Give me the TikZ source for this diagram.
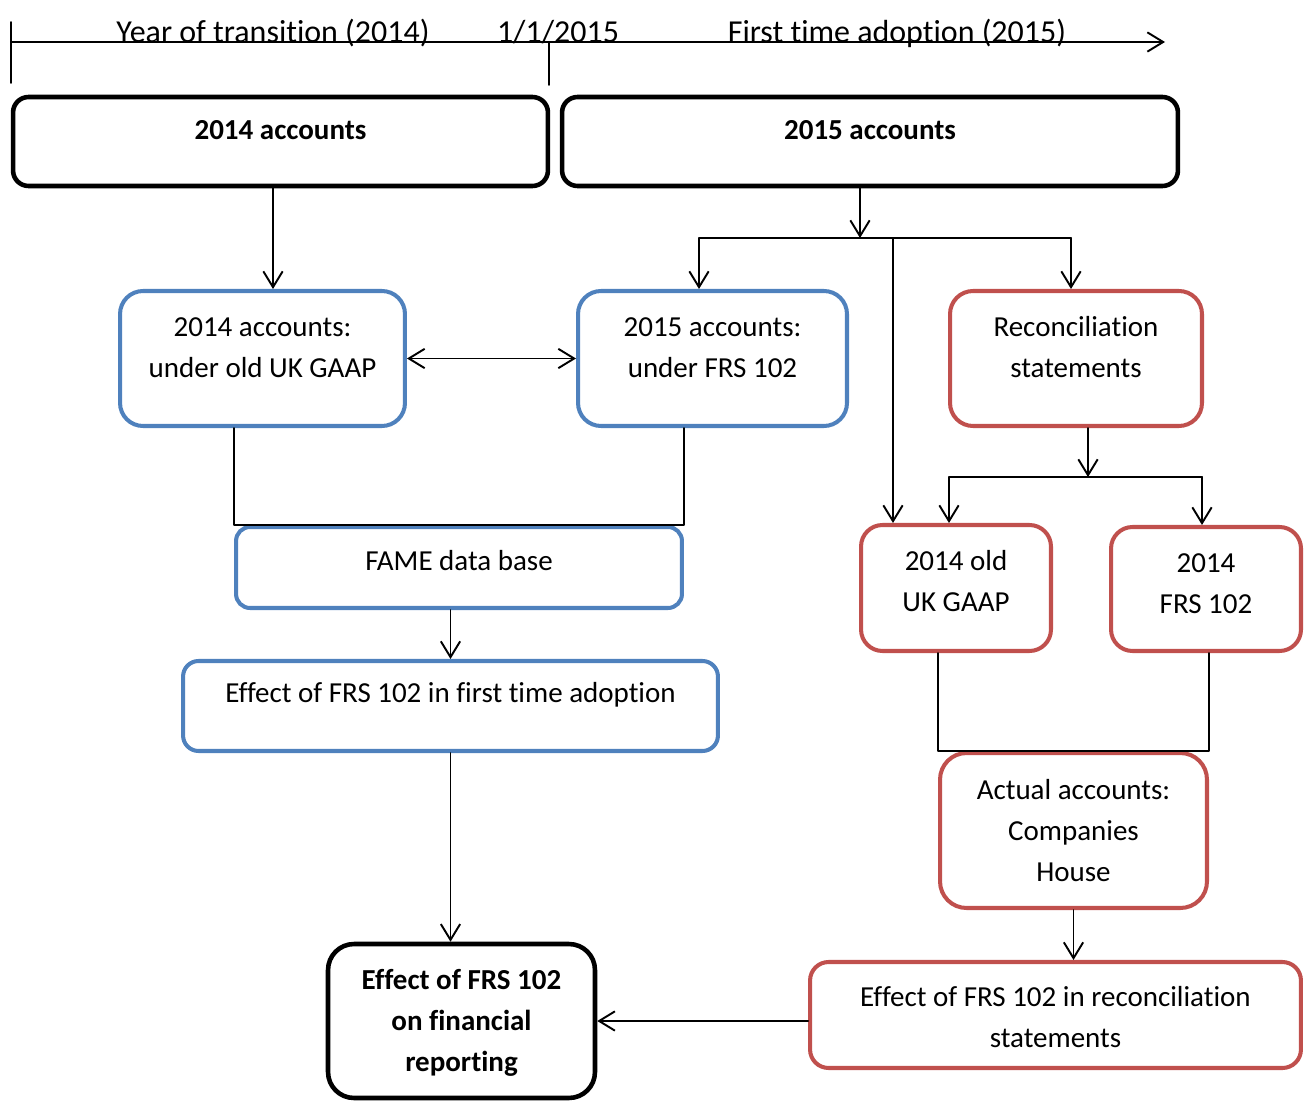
\documentclass[tikz,border=0pt]{standalone}
\usepackage{fontspec}
\setmainfont{Carlito}[Ligatures=NoCommon]
\usetikzlibrary{arrows.meta}
\definecolor{boxblue}{RGB}{79,129,189}
\definecolor{boxred}{RGB}{192,80,77}
\tikzset{
  roundbox/.style={draw,line width=2.3pt,inner sep=0pt,rounded corners=#1},
  blackbox/.style={roundbox=#1,draw=black,line width=2.6pt},
  bluebox/.style={roundbox=#1,draw=boxblue},
  redbox/.style={roundbox=#1,draw=boxred},
  txt/.style={align=center,inner sep=0pt,font=\fontsize{16.5}{23.3}\selectfont},
  boldtxt/.style={txt,font=\bfseries\fontsize{16.5}{23.3}\selectfont},
  tltxt/.style={inner sep=0pt,anchor=base,font=\fontsize{18.2}{22}\selectfont},
  conn/.style={line width=1.1pt}
}

\begin{document}
\begin{tikzpicture}[x=0.02cm,y=-0.02cm,line cap=round,line join=round,
  >={Straight Barb[length=9pt,width=11pt]}]
  \useasboundingbox (0,0) rectangle (1315,1101);

  % time line
  \coordinate (t0) at (11,42);
  \coordinate (t1) at (1165,42);
  \coordinate (tick0a) at (11,22);
  \coordinate (tick0b) at (11,83);
  \coordinate (tick1a) at (549,42);
  \coordinate (tick1b) at (549,85);
  \draw[conn,->] (t0) -- (t1);
  \draw[conn] (tick0a) -- (tick0b);
  \draw[conn] (tick1a) -- (tick1b);
  \node[tltxt] (yt) at (273,43) {Year of transition (2014)};
  \node[tltxt] (day) at (558,43) {1/1/2015};
  \node[tltxt] (fta) at (897,43) {First time adoption (2015)};

  % boxes
  \node[blackbox=0.31cm,minimum width=10.7cm,minimum height=1.78cm] (b2014) at (280.5,141.5) {};
  \node[blackbox=0.31cm,minimum width=12.32cm,minimum height=1.78cm] (b2015) at (870,141.5) {};
  \node[bluebox=0.46cm,minimum width=5.7cm,minimum height=2.7cm] (old) at (262.5,358.5) {};
  \node[bluebox=0.46cm,minimum width=5.38cm,minimum height=2.7cm] (frs) at (712.5,358.5) {};
  \node[redbox=0.46cm,minimum width=5.04cm,minimum height=2.7cm] (recon) at (1076,358.5) {};
  \node[bluebox=0.28cm,minimum width=8.92cm,minimum height=1.62cm] (fame) at (459,567.5) {};
  \node[bluebox=0.31cm,minimum width=10.7cm,minimum height=1.8cm] (effFTA) at (450.5,706) {};
  \node[redbox=0.43cm,minimum width=3.8cm,minimum height=2.52cm] (old14) at (956,588) {};
  \node[redbox=0.43cm,minimum width=3.8cm,minimum height=2.48cm] (frs14) at (1206,589) {};
  \node[redbox=0.53cm,minimum width=5.34cm,minimum height=3.1cm] (actual) at (1073.5,830.5) {};
  \node[redbox=0.37cm,minimum width=9.82cm,minimum height=2.12cm] (effRec) at (1055.5,1015) {};
  \node[blackbox=0.52cm,minimum width=5.34cm,minimum height=3.08cm] (final) at (461.5,1021) {};

  % texts
  \node[boldtxt] (b2014-t) at ([yshift=0.23cm]b2014.center) {2014 accounts};
  \node[boldtxt] (b2015-t) at ([yshift=0.23cm]b2015.center) {2015 accounts};
  \node[txt] (old-t) at ([yshift=0.22cm]old.center) {2014 accounts:\\under old UK GAAP};
  \node[txt] (frs-t) at ([yshift=0.22cm]frs.center) {2015 accounts:\\under FRS 102};
  \node[txt] (recon-t) at ([yshift=0.22cm]recon.center) {Reconciliation\\statements};
  \node[txt] (fame-t) at ([yshift=0.13cm]fame.center) {FAME data base};
  \node[txt] (effFTA-t) at ([yshift=0.22cm]effFTA.center) {Effect of FRS 102 in first time adoption};
  \node[txt] (old14-t) at ([yshift=0.13cm]old14.center) {2014 old\\UK GAAP};
  \node[txt] (frs14-t) at ([yshift=0.11cm]frs14.center) {2014\\FRS 102};
  \node[txt] (actual-t) at (actual.center) {Actual accounts:\\Companies\\House};
  \node[txt] (effRec-t) at ([yshift=-0.05cm]effRec.center) {Effect of FRS 102 in reconciliation\\statements};
  \node[boldtxt] (final-t) at ([yshift=-0.04cm]final.center) {Effect of FRS 102\\on financial\\reporting};

  % connectors
  \coordinate (split1) at (860,238);
  \coordinate (barL) at (699,238);
  \coordinate (barM) at (893,238);
  \coordinate (barR) at (1071,238);
  \coordinate (split2) at (1088,477);
  \coordinate (bar2L) at (949,477);
  \coordinate (bar2R) at (1202,477);
  \draw[conn,->] ([xshift=-0.15cm]b2014.south) -- ([xshift=0.21cm]old.north);
  \draw[conn,->] (split1 |- b2015.south) -- (split1);
  \draw[conn] (barL) -- (barR);
  \draw[conn,->] (barL) -- (barL |- frs.north);
  \draw[conn,->] (barM) -- (barM |- old14.north);
  \draw[conn,->] (barR) -- (barR |- recon.north);
  \draw[conn,<->] (old.east) -- (frs.west);
  \draw[conn,->] (split2 |- recon.south) -- (split2);
  \draw[conn] (bar2L) -- (bar2R);
  \draw[conn,->] (bar2L) -- (bar2L |- old14.north);
  \draw[conn,->] (bar2R) -- (bar2R |- frs14.north);
  \draw[conn] (old.south -| fame.west) -- (fame.north west) -- (fame.north east) -- (frs.south -| fame.east);
  \draw[conn,->] (effFTA.north |- fame.south) -- (effFTA.north);
  \draw[conn,->] (effFTA.south) -- (effFTA.south |- final.north);
  \draw[conn] (old14.south -| actual.west) -- (actual.north west) -- (actual.north east) -- (frs14.south -| actual.east);
  \draw[conn,->] (actual.south) -- (actual.south |- effRec.north);
  \draw[conn,->] (effRec.west |- final.east) -- (final.east);
\end{tikzpicture}
\end{document}
